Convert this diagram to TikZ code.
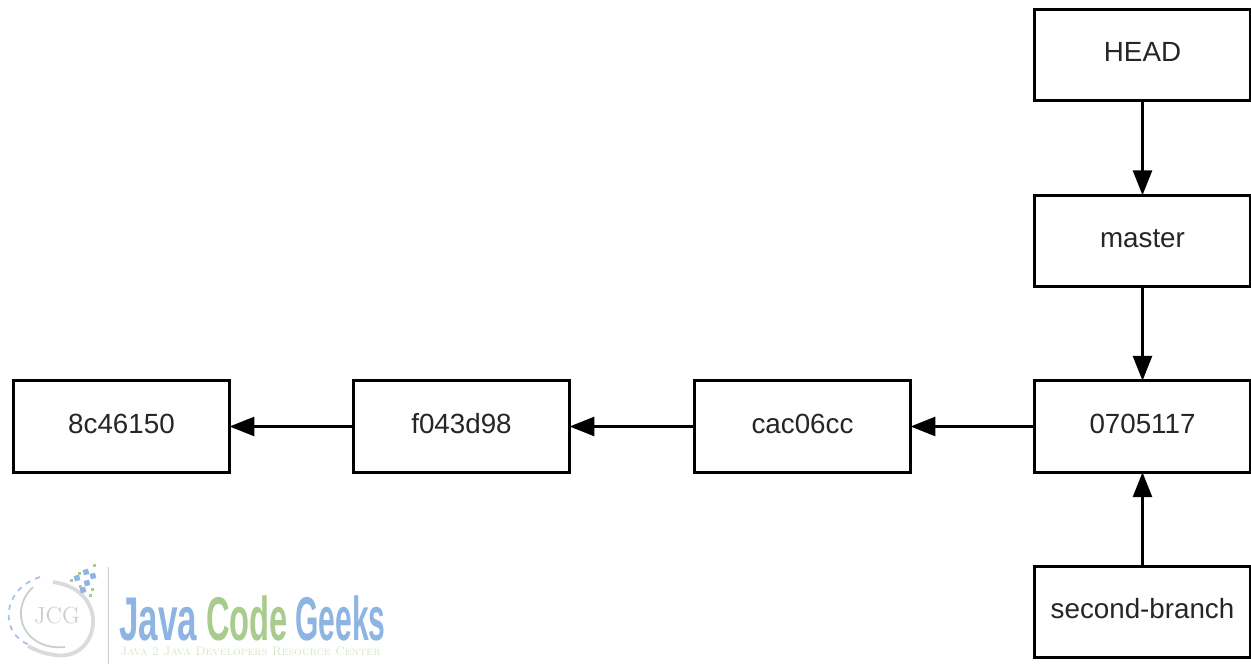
\documentclass[tikz,border=0pt]{standalone}
\usepackage{fontspec}
\newfontfamily\labelfont{Liberation Sans}
\usepackage{tikz}
\usetikzlibrary{arrows.meta}
\definecolor{logoblue}{HTML}{8DB4E2}
\definecolor{logogreen}{HTML}{A9CB8E}
\definecolor{logopale}{HTML}{D5E6C6}
\definecolor{logogrey}{HTML}{C9CDD0}
\begin{document}
\begin{tikzpicture}[x=0.02cm,y=-0.02cm]
  \tikzset{
    commit/.style={
      draw=black,
      fill=white,
      line width=1.7pt,
      minimum width=4.32cm,
      minimum height=1.83cm,
      inner sep=0pt,
      text height=0.4cm,
      text depth=0.14cm,
      font=\labelfont\fontsize{15.8pt}{18pt}\selectfont,
      text=black!85
    },
    link/.style={
      draw=black,
      line width=1.7pt,
      shorten >=-0.03cm,
      -{Triangle[length=0.5cm, width=0.38cm]}
    },
    logoword/.style={
      font=\labelfont\bfseries\fontsize{19pt}{22pt}\selectfont,
      inner sep=0pt,
      anchor=base west,
      text depth=0pt,
      yscale=1.85
    },
    blueblock/.style={fill=logoblue, minimum size=0.11cm, inner sep=0pt, rotate=15},
    greendot/.style={fill=logogreen, minimum size=0.06cm, inner sep=0pt}
  }
  \useasboundingbox (0,0) rectangle (1251,664);

  \node[commit] (head) at (1142.5,55) {HEAD};
  \node[commit] (master) at (1142.5,241) {master};
  \node[commit] (c4) at (1142.5,426.5) {0705117};
  \node[commit] (second) at (1142.5,612) {second-branch};
  \node[commit] (c3) at (802.5,426.5) {cac06cc};
  \node[commit] (c2) at (461.5,426.5) {f043d98};
  \node[commit] (c1) at (121.5,426.5) {8c46150};

  \draw[link] (head) -- (master);
  \draw[link] (master) -- (c4);
  \draw[link] (second) -- (c4);
  \draw[link] (c4) -- (c3);
  \draw[link] (c3) -- (c2);
  \draw[link] (c2) -- (c1);

  % logo
  \draw[logogrey, line width=0.5pt] (108,567) -- (108,664);
  \draw[logogrey, line width=1pt] (33,587) .. controls (7,612) and (25,651) .. (65,647);
  \draw[logogrey!70, line width=2.2pt] (53,582) .. controls (112,590) and (100,662) .. (55,655) .. controls (45,654) and (35,650) .. (28,646);
  \draw[logoblue!80, line width=1pt, dashed] (40,577) .. controls (0,590) and (0,635) .. (30,645);
  \node[font=\rmfamily\fontsize{13.2pt}{15pt}\selectfont, text=logogrey, inner sep=0pt] (jcg) at (57,616) {JCG};
  \foreach \x/\y [count=\i] in {86/572, 93/576, 77/578, 87/583, 83/590}
    \node[blueblock] (blue\i) at (\x,\y) {};
  \foreach \x/\y [count=\i] in {94/565, 79/573, 71/580, 80/586, 92/589, 90/595}
    \node[greendot] (green\i) at (\x,\y) {};
  \node[logoword, text=logoblue, xscale=1.05] (java) at (119,640) {Java};
  \node[logoword, text=logogreen, xscale=0.98] (code) at (206,640) {Code};
  \node[logoword, text=logoblue, xscale=0.9] (geeks) at (295,640) {Geeks};
  \node[font=\rmfamily\scshape\fontsize{6.96pt}{8pt}\selectfont, text=logopale, inner sep=0pt, anchor=west] (motto) at (120,651) {Java 2 Java Developers Resource Center};
\end{tikzpicture}
\end{document}
